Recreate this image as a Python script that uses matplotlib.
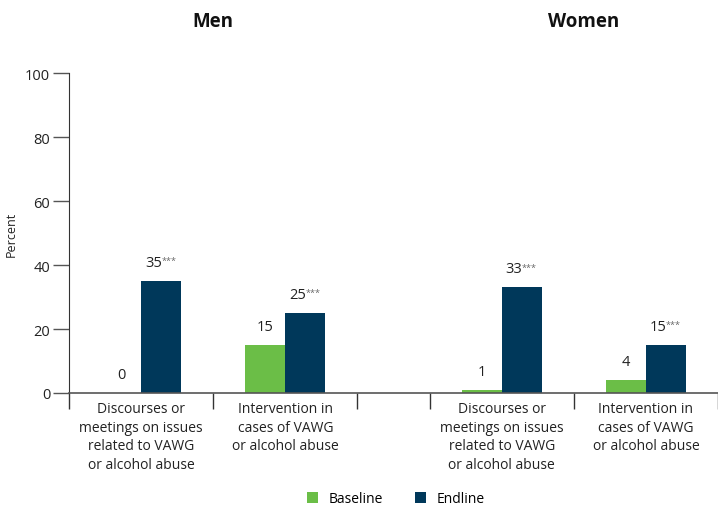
import matplotlib
matplotlib.use("Agg")
import matplotlib.pyplot as plt
from matplotlib.patches import Patch

plt.rcParams['font.family'] = ['Open Sans', 'DejaVu Sans']

categories = ["Discourses or\nmeetings on issues\nrelated to VAWG\nor alcohol abuse",
              "Intervention in\ncases of VAWG\nor alcohol abuse",
              "Discourses or\nmeetings on issues\nrelated to VAWG\nor alcohol abuse",
              "Intervention in\ncases of VAWG\nor alcohol abuse"]
groups = ["Men", "Women"]
baseline = [0, 15, 1, 4]
endline = [35, 25, 33, 15]
baseline_sig = ["", "", "", ""]
endline_sig = ["***", "***", "***", "***"]

GREEN = "#6BBE47"
NAVY = "#00385A"
AXC = "#555555"
TXT = "#222222"

centers = [0.5, 1.5, 3.0, 4.0]
bounds = [0, 1, 2, 2.5, 3.5, 4.5]
bw = 0.278

fig = plt.figure(figsize=(7.18, 5.06), dpi=100)
ax = fig.add_axes([69/718, 112/506, 649/718, 320/506])

xb = [c - bw/2 for c in centers]
xe = [c + bw/2 for c in centers]
ax.bar(xb, baseline, width=bw, color=GREEN)
ax.bar(xe, endline, width=bw, color=NAVY)

def label(x, v, s):
    shift = -5.5 if s else 0
    t = ax.annotate(f"{v}", (x, v), xytext=(shift, 8), textcoords='offset points',
                    ha='center', va='bottom', fontsize=10.5, color=TXT)
    if s:
        ax.annotate(s, xy=(1, 0.92), xycoords=t, xytext=(-0.6, 0), textcoords='offset points',
                    ha='left', va='top', fontsize=6.5, color='#666666')

for x, v, s in zip(xb, baseline, baseline_sig):
    label(x, v, s)
for x, v, s in zip(xe, endline, endline_sig):
    label(x, v, s)

ax.set_xlim(0, 4.5)
ax.set_ylim(0, 100)
ax.set_yticks([0, 20, 40, 60, 80, 100])
ax.tick_params(axis='y', length=11.5, width=1, color=AXC, labelsize=10.5, labelcolor=TXT, pad=2)
ax.set_xticks(centers)
ax.set_xticklabels(categories, fontsize=10, color=TXT, linespacing=1.32)
ax.tick_params(axis='x', which='major', length=0, pad=6)
ax.set_xticks(bounds, minor=True)
ax.tick_params(axis='x', which='minor', length=11.5, width=1, color='#333333', direction='out')

for sp in ['top', 'right']:
    ax.spines[sp].set_visible(False)
ax.spines['left'].set_color('#333333')
ax.spines['bottom'].set_color(AXC)
ax.spines['bottom'].set_linewidth(1.2)

ax.set_ylabel("Percent", fontsize=9, color=TXT, labelpad=5)

fig.text(213/718, 1 - 22/506, groups[0], ha='center', va='center', fontsize=13.5, fontweight='bold', color='#111111')
fig.text(584/718, 1 - 22/506, groups[1], ha='center', va='center', fontsize=13.5, fontweight='bold', color='#111111')

handles = [Patch(facecolor=GREEN, label='Baseline'), Patch(facecolor=NAVY, label='Endline')]
fig.legend(handles=handles, loc='center', bbox_to_anchor=(396/718, 6/506), ncol=2, frameon=False,
           fontsize=10, handlelength=0.8, handleheight=0.8, columnspacing=2.3, handletextpad=0.75)

fig.savefig("out.png", dpi=100)
